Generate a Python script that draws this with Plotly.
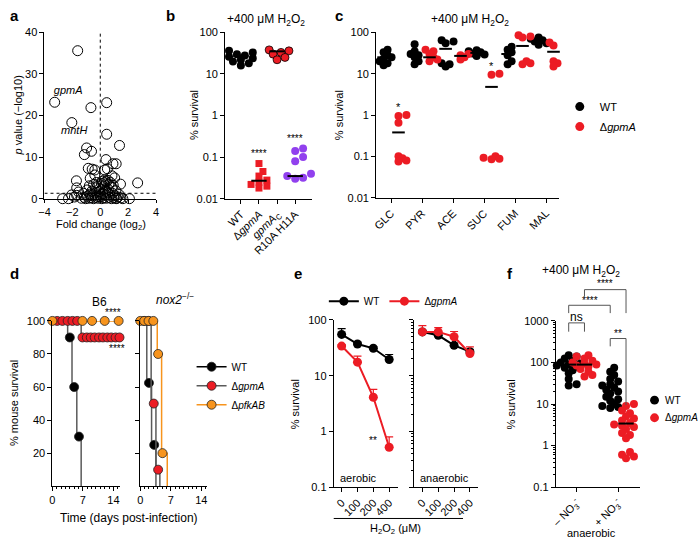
import numpy as np
import plotly.graph_objects as go

W, H = 698, 546
FONT = "Liberation Sans, Arial, Helvetica, sans-serif"
RED = "#ec1c24"
ORANGE = "#f7941d"
PURPLE = "#9140ee"
GRAY = "#5a5a5a"

# ======================= DATA =======================
# (a) volcano plot: fold change (log2) and p value (-log10)
volcano_fc = [-1.62, -3.27, 0.46, -0.67, -2.04, 0.46, 1.38, -0.98, -1.14, -0.63, 0.41, 0.91, 1.14,
              -0.86, -0.58, -0.39, 0.32, 0.51, -1.71, -0.72, -0.39, 0.84, 1.03, 1.45, 2.68, -1.69,
              -2.70, -2.28, -1.69, 1.14, 1.62, 2.09,
              -1.35, -1.15, -1.05, -0.92, -0.83, -0.74, -0.66, -0.57, -0.48, -0.41, -0.33, -0.24, -0.16,
              -0.08, 0.02, 0.11, 0.19, 0.27, 0.36, 0.44, 0.53, 0.62, 0.71, 0.80, 0.88, 0.97, 1.06, 1.18,
              1.27, -1.22, -0.95, -0.61, -0.35, -0.05, 0.24, 0.58, 0.85, 1.12, -0.78, -0.48, -0.18, 0.09,
              0.34, 0.62, 0.93, -0.28, 0.15, 0.30, 0.42, 0.55, 0.72, 0.25, -1.85, -1.55, -2.05, 1.35,
              1.48, -0.15, 0.05, 0.38]
volcano_p = [35.6, 23.2, 23.1, 21.9, 18.3, 15.5, 12.8, 12.2, 10.6, 11.4, 9.4, 8.4, 8.4,
             7.3, 7.1, 6.9, 6.9, 7.2, 4.3, 4.9, 5.7, 5.5, 5.0, 3.5, 3.8, 2.6,
             0.0, 0.0, 0.8, 0.0, 0.0, 0.0,
             0.1, 0.3, 0.0, 0.6, 0.1, 1.1, 0.2, 0.7, 0.0, 1.4, 0.3, 0.9, 0.1,
             1.7, 0.4, 0.0, 1.2, 0.2, 0.8, 0.1, 1.5, 0.3, 0.9, 0.0, 1.3, 0.2, 0.7, 0.1,
             0.4, 1.3, 2.1, 1.8, 2.6, 2.4, 2.9, 2.2, 2.7, 1.9, 3.1, 3.4, 3.0, 3.6,
             3.3, 3.5, 3.2, 3.9, 4.2, 4.5, 4.1, 4.4, 3.9, 3.8, 0.4, 1.6, 0.9, 1.0,
             0.2, 0.5, 1.0, 1.8]
volcano_labels = ["gpmA", "mntH"]
volcano_label_fc = [-2.3, -1.87]
volcano_label_p = [25.9, 16.2]

# (b) survival, +400 uM H2O2
b_strains = ["WT", "Δ<i>gpmA</i>", "<i>gpmA</i><sub>C</sub>", "R10A H11A"]
b_wt = [36, 33, 30, 28, 26, 24, 22, 20, 18, 16]
b_gpma = [0.07, 0.045, 0.035, 0.028, 0.025, 0.022, 0.020, 0.018]
b_comp = [38, 36, 33, 30, 25, 22]
b_mut = [0.16, 0.14, 0.10, 0.08, 0.04, 0.035, 0.032, 0.030]
b_median = [27, 0.027, 35, 0.035]

# (c) carbon sources
c_carbon = ["GLC", "PYR", "ACE", "SUC", "FUM", "MAL"]
c_wt = [[38, 33, 28, 25, 23, 20, 18, 16],
        [52, 35, 30, 28, 25, 20, 17],
        [65, 60, 55, 18, 17, 15],
        [37, 35, 33, 31, 29, 27],
        [45, 38, 33, 28, 20, 17],
        [75, 70, 65, 60, 55, 50]]
c_gpma = [[1.0, 0.95, 0.65, 0.10, 0.09, 0.08, 0.075],
          [38, 35, 30, 25, 22, 20],
          [30, 28, 25, 22],
          [10, 9.5, 0.10, 0.092, 0.088, 0.085],
          [85, 80, 75, 20, 18, 17],
          [57, 52, 48, 20, 18, 15]]
c_wt_mean = [25, 28, 40, 32, 30, 62]
c_gpma_mean = [0.38, 25, 27, 4.8, 47, 34]

# (d) Kaplan-Meier, B6 mice
d_b6_wt_t = [0, 3.5, 4.5, 5.6, 6.6]
d_b6_wt_s = [100, 90, 60, 30, 0]
d_b6_wt_pt_t = [4.0, 5.0, 6.1]
d_b6_wt_pt_s = [90, 60, 30]
d_b6_gpma_t = [0, 6.6, 15.4]
d_b6_gpma_s = [100, 90, 90]
d_b6_gpma_pt_t = [1.1, 2.3, 3.5, 4.6, 5.7, 6.9, 7.9, 8.8, 9.7, 10.7, 11.6, 12.6, 13.5, 14.5, 15.4]
d_b6_gpma_pt_s = [100, 100, 100, 100, 100, 90, 90, 90, 90, 90, 90, 90, 90, 90, 90]
d_b6_pfk_t = [0, 15.2]
d_b6_pfk_s = [100, 100]
d_b6_pfk_pt_t = [0, 6.9, 9.1, 12.0, 15.2]
d_b6_pfk_pt_s = [100, 100, 100, 100, 100]
# (d) nox2-/- mice
d_nox_wt_t = [0, 1.5, 2.6, 3.6]
d_nox_wt_s = [100, 62.5, 25, 0]
d_nox_wt_pt_t = [0.9, 2.0, 3.2]
d_nox_wt_pt_s = [100, 62.5, 25]
d_nox_gpma_t = [0, 2.5, 3.6, 4.5]
d_nox_gpma_s = [100, 50, 10, 0]
d_nox_gpma_pt_t = [1.9, 3.1, 4.1]
d_nox_gpma_pt_s = [100, 50, 10]
d_nox_pfk_t = [0, 3.9, 4.9, 6.2]
d_nox_pfk_s = [100, 80, 20, 0]
d_nox_pfk_pt_t = [0, 0.9, 1.9, 3.0, 4.1, 5.1]
d_nox_pfk_pt_s = [100, 100, 100, 100, 80, 20]

# (e) H2O2 dose response
e_doses = ["0", "100", "200", "400"]
e_aer_wt = [55, 37, 31, 19.5]
e_aer_wt_err = [15, 3, 2, 4.5]
e_aer_gpma = [34, 17.5, 4.1, 0.52]
e_aer_gpma_err = [2, 5, 1.6, 0.28]
e_ana_wt = [61, 53, 35, 27]
e_ana_wt_err = [5, 4, 3, 2]
e_ana_gpma = [61, 61, 50, 25]
e_ana_gpma_err = [18, 12, 12, 8]

# (f) anaerobic +/- nitrate
f_groups = ["– NO<sub>3</sub><sup>-</sup>", "+ NO<sub>3</sub><sup>-</sup>"]
f_minus_wt = [150, 140, 125, 110, 100, 95, 90, 85, 80, 75, 65, 55, 40, 30, 28]
f_minus_gpma = [150, 140, 125, 110, 100, 95, 90, 85, 80, 70, 60, 50, 46]
f_plus_wt = [75, 60, 50, 40, 35, 30, 28, 25, 22, 20, 18, 15, 13, 12, 10, 9, 8.5, 8]
f_plus_gpma = [10, 9, 7, 6, 5, 4.5, 4, 3.5, 3.2, 3, 2.8, 2.5, 2, 1.8, 1.5, 0.7, 0.6, 0.55, 0.5]
f_median = [89, 89, 25, 3.4]
f_legend_names = ["WT", "Δ<i>gpmA</i>"]
f_legend_colors = ["black", RED]


# ======================= HELPERS =======================
def pxx(x):
    return x / W


def pyy(y):
    return 1 - y / H


def swarm(vals, center, unit_px, px_per_dec, diam, tight):
    """simple beeswarm layout on a log axis -> x positions in data units"""
    order = sorted(range(len(vals)), key=lambda i: vals[i])
    placed, xs = [], [0.0] * len(vals)
    for i in order:
        yv = np.log10(vals[i]) * px_per_dec
        k, off = 0, None
        while off is None:
            cands = [0.0] if k == 0 else [k * diam * 0.5, -k * diam * 0.5]
            for c in cands:
                if all((c - a) ** 2 + (yv - b) ** 2 >= (diam * tight) ** 2 for a, b in placed):
                    off = c
                    break
            k += 1
        placed.append((off, yv))
        xs[i] = center + off / unit_px
    return xs


fig = go.Figure()


def add(tr, n, legend=None):
    tr.update(xaxis="x" if n == 1 else f"x{n}", yaxis="y" if n == 1 else f"y{n}")
    if legend is None:
        tr.update(showlegend=False)
    else:
        tr.update(showlegend=True, legend=legend)
    fig.add_trace(tr)


# ---------------- (a) ----------------
add(go.Scatter(x=volcano_fc, y=volcano_p, mode="markers", cliponaxis=False,
               marker=dict(symbol="circle-open", size=10, color="black", line=dict(width=1))), 1)
add(go.Scatter(x=[-4, 4], y=[1.3, 1.3], mode="lines", line=dict(color="black", width=1, dash="dot")), 1)
add(go.Scatter(x=[0, 0], y=[0, 40], mode="lines", line=dict(color="black", width=1, dash="dot")), 1)
add(go.Scatter(x=volcano_label_fc, y=volcano_label_p, mode="text", cliponaxis=False,
               text=[f"<i>{t}</i>" for t in volcano_labels],
               textfont=dict(family=FONT, size=11, color="black")), 1)

# ---------------- (b) ----------------
b_sets = [(b_wt, "circle", "black", "black", 0), (b_gpma, "square", RED, RED, 0),
          (b_comp, "circle", RED, "black", 0.8), (b_mut, "circle", PURPLE, PURPLE, 0)]
for i, (vals, sym, col, lc, lw) in enumerate(b_sets):
    xs = swarm(vals, i, 18.3, 42.5, 8, 0.72)
    add(go.Scatter(x=xs, y=vals, mode="markers", cliponaxis=False,
                   marker=dict(symbol=sym, size=8 if sym == "circle" else 7, color=col,
                               line=dict(color=lc, width=lw))), 2)
add(go.Scatter(x=list(range(4)), y=b_median, mode="markers", cliponaxis=False,
               marker=dict(symbol="line-ew", size=11, line=dict(color="black", width=2))), 2)

# ---------------- (c) ----------------
OFF = 0.24
cw_x, cw_y, cg_x, cg_y = [], [], [], []
for i in range(len(c_carbon)):
    cw_x += swarm(c_wt[i], i - OFF, 31.3, 42.25, 8, 0.55)
    cw_y += c_wt[i]
    cg_x += swarm(c_gpma[i], i + OFF, 31.3, 42.25, 8, 0.55)
    cg_y += c_gpma[i]
add(go.Scatter(x=cw_x, y=cw_y, mode="markers", cliponaxis=False,
               marker=dict(size=8, color="black")), 3)
add(go.Scatter(x=cg_x, y=cg_y, mode="markers", cliponaxis=False,
               marker=dict(size=8, color=RED)), 3)
add(go.Scatter(x=[i - OFF for i in range(6)] + [i + OFF for i in range(6)],
               y=c_wt_mean + c_gpma_mean, mode="markers", cliponaxis=False,
               marker=dict(symbol="line-ew", size=9, line=dict(color="black", width=2))), 3)
add(go.Scatter(x=[None], y=[None], mode="markers", name="WT", legendgroup="cw",
               marker=dict(size=9, color="black")), 3, "legend")
add(go.Scatter(x=[None], y=[None], mode="markers", name="Δ<i>gpmA</i>", legendgroup="cg",
               marker=dict(size=9, color=RED)), 3, "legend")

# ---------------- (d) ----------------
def km(n, t, s, pt_t, pt_s, lcol, mcol):
    add(go.Scatter(x=t, y=s, mode="lines", line=dict(color=lcol, width=1.5, shape="hv")), n)
    add(go.Scatter(x=pt_t, y=pt_s, mode="markers", cliponaxis=False,
                   marker=dict(size=9, color=mcol, line=dict(color="#222", width=0.8))), n)


km(4, d_b6_pfk_t, d_b6_pfk_s, [], [], ORANGE, ORANGE)
km(4, d_b6_wt_t, d_b6_wt_s, d_b6_wt_pt_t, d_b6_wt_pt_s, GRAY, "black")
km(4, d_b6_gpma_t, d_b6_gpma_s, d_b6_gpma_pt_t, d_b6_gpma_pt_s, GRAY, RED)
km(4, [], [], d_b6_pfk_pt_t, d_b6_pfk_pt_s, ORANGE, ORANGE)
km(5, d_nox_pfk_t, d_nox_pfk_s, [], [], ORANGE, ORANGE)
km(5, d_nox_wt_t, d_nox_wt_s, d_nox_wt_pt_t, d_nox_wt_pt_s, GRAY, "black")
km(5, d_nox_gpma_t, d_nox_gpma_s, d_nox_gpma_pt_t, d_nox_gpma_pt_s, GRAY, RED)
km(5, [], [], d_nox_pfk_pt_t, d_nox_pfk_pt_s, ORANGE, ORANGE)
for nm, lc, mc, g in [("WT", "black", "black", "dw"), ("Δ<i>gpmA</i>", GRAY, RED, "dg"),
                      ("Δ<i>pfkAB</i>", ORANGE, ORANGE, "dp")]:
    add(go.Scatter(x=[None], y=[None], mode="lines+markers", name=nm, legendgroup=g,
                   line=dict(color=lc, width=1.5),
                   marker=dict(size=9, color=mc, line=dict(color="#222", width=0.8))), 4, "legend2")

# ---------------- (e) ----------------
def dose(n, vals, err, col):
    add(go.Scatter(x=list(range(4)), y=vals, mode="lines+markers", cliponaxis=False,
                   line=dict(color=col, width=2), marker=dict(size=9, color=col),
                   error_y=dict(type="data", symmetric=False, array=err, arrayminus=[0] * 4,
                                color=col, thickness=1.2, width=4)), n)


dose(6, e_aer_wt, e_aer_wt_err, "black")
dose(6, e_aer_gpma, e_aer_gpma_err, RED)
dose(7, e_ana_wt, e_ana_wt_err, "black")
dose(7, e_ana_gpma, e_ana_gpma_err, RED)
add(go.Scatter(x=[None], y=[None], mode="lines+markers", name="WT",
               line=dict(color="black", width=2), marker=dict(size=9, color="black")), 6, "legend3")
add(go.Scatter(x=[None], y=[None], mode="lines+markers", name="Δ<i>gpmA</i>",
               line=dict(color=RED, width=2), marker=dict(size=9, color=RED)), 6, "legend3")

# ---------------- (f) ----------------
FO = 0.19
f_sets = [(f_minus_wt, -FO, "black"), (f_minus_gpma, FO, RED),
          (f_plus_wt, 1 - FO, "black"), (f_plus_gpma, 1 + FO, RED)]
for vals, cx, col in f_sets:
    xs = swarm(vals, cx, 42.0, 42.5, 8, 0.62)
    add(go.Scatter(x=xs, y=vals, mode="markers", cliponaxis=False,
                   marker=dict(size=8, color=col)), 8)
add(go.Scatter(x=[-FO, FO, 1 - FO, 1 + FO], y=f_median, mode="markers", cliponaxis=False,
               marker=dict(symbol="line-ew", size=11, line=dict(color="black", width=2))), 8)

# ======================= LAYOUT =======================
TICKF = dict(family=FONT, size=11, color="black")


def axis(**kw):
    d = dict(showline=True, linecolor="black", linewidth=1, ticks="outside", ticklen=4,
             tickwidth=1, tickcolor="black", showgrid=False, zeroline=False, tickfont=TICKF,
             fixedrange=True)
    d.update(kw)
    return d


def minor_log(lo, hi):
    return dict(ticks="outside", ticklen=2, tickcolor="black", showgrid=False,
                tickvals=[m * 10 ** e for e in range(lo, hi) for m in range(2, 10)])


lay = {}
# (a)
lay["xaxis"] = axis(domain=[pxx(39), pxx(152)], anchor="y", range=[-4, 4], ticklen=3,
                    tickvals=[-4, -2, 0, 2, 4])
lay["yaxis"] = axis(domain=[pyy(197), pyy(27)], anchor="x", range=[0, 40],
                    tickvals=[0, 10, 20, 30, 40])
# (b)
lay["xaxis2"] = axis(domain=[pxx(222), pxx(310)], anchor="y2", range=[-0.87, 3.93],
                     tickvals=list(range(4)), ticktext=b_strains, tickangle=-45)
lay["yaxis2"] = axis(domain=[pyy(197), pyy(27)], anchor="x2", type="log", range=[-2, 2],
                     tickvals=[0.01, 0.1, 1, 10, 100], ticktext=["0.01", "0.1", "1", "10", "100"])
# (c)
lay["xaxis3"] = axis(domain=[pxx(375), pxx(560)], anchor="y3", range=[-0.48, 5.41],
                     tickvals=list(range(6)), ticktext=c_carbon, tickangle=-45)
lay["yaxis3"] = axis(domain=[pyy(196), pyy(27)], anchor="x3", type="log", range=[-2, 2],
                     tickvals=[0.01, 0.1, 1, 10, 100], ticktext=["0.01", "0.1", "1", "10", "100"])
# (d)
dminor = dict(dtick=1, ticks="outside", ticklen=2, tickcolor="black", showgrid=False)
lay["xaxis4"] = axis(domain=[pxx(47), pxx(115)], anchor="y4", range=[0, 15.4],
                     tickvals=[0, 7, 14], minor=dminor)
lay["yaxis4"] = axis(domain=[pyy(491), pyy(322)], anchor="x4", range=[0, 100],
                     tickvals=[20, 40, 60, 80, 100])
lay["xaxis5"] = axis(domain=[pxx(136), pxx(204)], anchor="y5", range=[0, 15.4],
                     tickvals=[0, 7, 14], minor=dminor)
lay["yaxis5"] = axis(domain=[pyy(491), pyy(322)], anchor="x5", range=[0, 100],
                     tickvals=[20, 40, 60, 80, 100], showticklabels=False)
# (e)
lay["xaxis6"] = axis(domain=[pxx(332), pxx(397)], anchor="y6", range=[-0.5, 3.55],
                     tickvals=list(range(4)), ticktext=e_doses, tickangle=-45)
lay["yaxis6"] = axis(domain=[pyy(492), pyy(321)], anchor="x6", type="log", range=[-1, 2],
                     tickvals=[0.1, 1, 10, 100], ticktext=["0.1", "1", "10", "100"])
lay["xaxis7"] = axis(domain=[pxx(413), pxx(478)], anchor="y7", range=[-0.55, 3.5],
                     tickvals=list(range(4)), ticktext=e_doses, tickangle=-45)
lay["yaxis7"] = axis(domain=[pyy(492), pyy(321)], anchor="x7", type="log", range=[-1, 2],
                     tickvals=[0.1, 1, 10, 100], showticklabels=False, minor=minor_log(-1, 2))
# (f)
lay["xaxis8"] = axis(domain=[pxx(557), pxx(642)], anchor="y8", range=[-0.5, 1.52],
                     tickvals=[0, 1], ticktext=f_groups, tickangle=-45)
lay["yaxis8"] = axis(domain=[pyy(492), pyy(322)], anchor="x8", type="log", range=[-1, 3],
                     tickvals=[0.1, 1, 10, 100, 1000], ticktext=["0.1", "1", "10", "100", "1000"],
                     minor=minor_log(-1, 3))

LEGF = dict(family=FONT, size=11, color="black")
lay["legend"] = dict(x=pxx(561), y=pyy(88), xanchor="left", yanchor="top", font=LEGF,
                     bgcolor="rgba(0,0,0,0)", tracegroupgap=1)
lay["legend2"] = dict(x=pxx(188), y=pyy(354), xanchor="left", yanchor="top",
                      font=dict(family=FONT, size=10, color="black"),
                      bgcolor="rgba(0,0,0,0)", tracegroupgap=0)
lay["legend3"] = dict(x=pxx(322), y=pyy(287), xanchor="left", yanchor="top", orientation="h",
                      font=dict(family=FONT, size=10, color="black"),
                      bgcolor="rgba(0,0,0,0)")

# ---- annotations ----
anns = []


def ann(text, x, y, size=11, xanchor="center", yanchor="middle", angle=0, xref="paper", yref="paper"):
    anns.append(dict(text=text, x=x, y=y, xref=xref, yref=yref, showarrow=False,
                     font=dict(family=FONT, size=size, color="black"),
                     xanchor=xanchor, yanchor=yanchor, textangle=angle))


H2O2 = "+400 μM H<sub>2</sub>O<sub>2</sub>"
# panel letters
for lt, x, y in [("a", 2, 10), ("b", 160, 10), ("c", 331, 10), ("d", 2, 273), ("e", 290, 273),
                 ("f", 506, 273)]:
    ann(f"<b>{lt}</b>", pxx(x), pyy(y), size=15, xanchor="left")
# (a)
ann("<i>p</i> value (−log10)", pxx(12), pyy(112), angle=-90)
ann("Fold change (log<sub>2</sub>)", pxx(96), pyy(224))
# (b)
ann(H2O2, pxx(263), pyy(14), size=12)
ann("% survival", pxx(190), pyy(112), angle=-90)
ann("****", 1, pyy(151), size=10, xref="x2")
ann("****", 3, pyy(135), size=10, xref="x2")
# (c)
ann(H2O2, pxx(470), pyy(14), size=12)
ann("% survival", pxx(337), pyy(112), angle=-90)
ann("*", 0 + OFF, pyy(103), size=11, xref="x3")
ann("*", 3 + OFF, pyy(61), size=11, xref="x3")
# (d)
ann("% mouse survival", pxx(8), pyy(406), angle=-90)
ann("B6", pxx(95), pyy(303), size=12)
ann("<i>nox2</i><sup>−/−</sup>", pxx(171), pyy(300), size=12)
ann("Time (days post-infection)", pxx(125), pyy(523), size=12)
ann("****", pxx(108), pyy(313), size=10)
ann("****", pxx(112), pyy(350), size=10)
# (e)
ann("% survival", pxx(293), pyy(407), angle=-90)
ann("aerobic", pxx(336), pyy(483), xanchor="left")
ann("anaerobic", pxx(417), pyy(483), xanchor="left")
ann("**", pxx(372), pyy(444), size=10)
ann("H<sub>2</sub>O<sub>2</sub> (μM)", pxx(395), pyy(535), size=11)
# (f)
ann(H2O2, pxx(583), pyy(271), size=12)
ann("% survival", pxx(512), pyy(407), angle=-90)
ann("anaerobic", pxx(593), pyy(539), size=11)
ann("ns", 0.0, pyy(318), size=12, xref="x8")
ann("****", 0.33, pyy(301), size=10, xref="x8")
ann("****", 0.69, pyy(284), size=10, xref="x8")
ann("**", 1.0, pyy(335), size=10, xref="x8")

# ---- shapes: significance brackets and H2O2 bar ----
shapes = []


def seg(x0, y0, x1, y1, xref="paper", col="#333", w=1):
    shapes.append(dict(type="line", xref=xref, yref="paper", x0=x0, y0=y0, x1=x1, y1=y1,
                       line=dict(color=col, width=w)))


def bracket(xa, xb, ytop, yla, ylb):
    seg(xa, pyy(ytop), xb, pyy(ytop), xref="x8", col="#555")
    seg(xa, pyy(ytop), xa, pyy(yla), xref="x8", col="#555")
    seg(xb, pyy(ytop), xb, pyy(ylb), xref="x8", col="#555")


bracket(-FO, FO, 324, 333, 333)
bracket(-FO, 1 - FO, 306, 314, 314)
bracket(FO, 1 + FO, 290, 297, 314)
bracket(1 - FO, 1 + FO, 340, 348, 408)
seg(pxx(332), pyy(524), pxx(463), pyy(524), col="black")

# (f) key: small dot + label per strain
for k, (nm, col) in enumerate(zip(f_legend_names, f_legend_colors)):
    cy = 403 + 18 * k
    shapes.append(dict(type="circle", xref="paper", yref="paper",
                       x0=pxx(652.5), x1=pxx(661.5), y0=pyy(cy + 4.5), y1=pyy(cy - 4.5),
                       fillcolor=col, line=dict(width=0)))
    ann(nm, pxx(666), pyy(cy), size=10, xanchor="left")

fig.update_layout(width=W, height=H, margin=dict(l=0, r=0, t=0, b=0),
                  paper_bgcolor="white", plot_bgcolor="white",
                  font=dict(family=FONT, size=11, color="black"),
                  annotations=anns, shapes=shapes, **lay)

fig.write_html("out.html", config={"displayModeBar": False},
               post_script="document.body.style.margin='0';document.body.style.overflow='hidden';")
